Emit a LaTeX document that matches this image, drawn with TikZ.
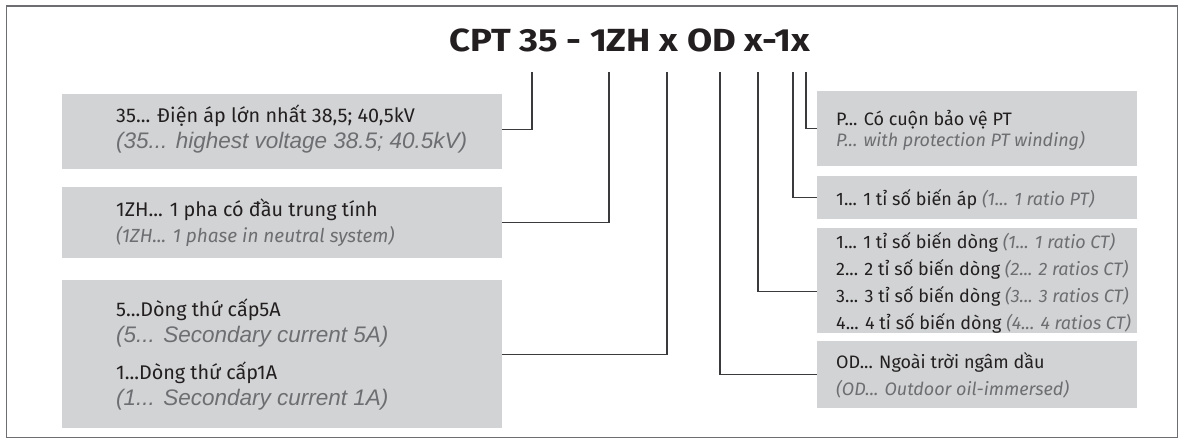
\documentclass[tikz,border=0pt]{standalone}
\usepackage{fontspec}
\setmainfont{Fira Sans}
\newfontfamily\arfont{Liberation Sans}
\newfontfamily\titlefont[FakeStretch=1.14]{Fira Sans}
\definecolor{boxgray}{HTML}{D1D3D4}
\definecolor{txt}{HTML}{231F20}
\definecolor{engray}{HTML}{6D6E71}
\definecolor{framegray}{HTML}{6D6E71}
\definecolor{conngray}{HTML}{3A3A3C}
\begin{document}
\begin{tikzpicture}[x=1pt,y=-1pt,
  box/.style={fill=boxgray, draw=none, inner sep=0pt, anchor=north west},
  conn/.style={draw=conngray, line width=1.1pt},
  vn/.style={anchor=base west, inner sep=0pt, text=txt, font=\fontsize{19.8}{24}\selectfont},
  vnr/.style={anchor=base west, inner sep=0pt, text=txt, font=\fontsize{18}{22}\selectfont},
  vnit/.style={anchor=base west, inner sep=0pt, text=engray, font=\fontsize{19}{22}\selectfont\itshape},
  vnrit/.style={anchor=base west, inner sep=0pt, text=engray, font=\fontsize{18}{22}\selectfont\itshape},
  en/.style={anchor=base west, inner sep=0pt, text=engray, font=\fontsize{22.5}{26}\arfont\itshape},
  ttl/.style={anchor=base, inner sep=0pt, text=txt, font=\fontsize{32}{38}\titlefont\bfseries}]
\useasboundingbox (0,0) rectangle (1179,441);
\node[draw=framegray, line width=1.5pt, inner sep=0pt, anchor=north west,
  minimum width=1171pt, minimum height=431pt] (frame) at (5.5,5.5) {};

\node[ttl] (title) at (629.5,52) {CPT 35 - 1ZH x OD x-1x};

% boxes
\node[box, minimum width=440pt, minimum height=75pt] (b1) at (62,94) {};
\node[box, minimum width=440pt, minimum height=71pt] (b2) at (62,187) {};
\node[box, minimum width=440pt, minimum height=148pt] (b3) at (62,280) {};
\node[box, minimum width=320pt, minimum height=75pt] (r1) at (817,91) {};
\node[box, minimum width=320pt, minimum height=43pt] (r2) at (817,176) {};
\node[box, minimum width=320pt, minimum height=105pt] (r3) at (817,228) {};
\node[box, minimum width=320pt, minimum height=67pt] (r4) at (817,341) {};

% tick tops
\coordinate (t1) at (532,72);
\coordinate (t2) at (609,72);
\coordinate (t3) at (667,72);
\coordinate (t4) at (720,72);
\coordinate (t5) at (758,72);
\coordinate (t6) at (793,72);
\coordinate (t7) at (806,72);

\draw[conn] (t1) |- ([yshift=2.5pt]b1.east);
\draw[conn] (t2) |- (b2.east);
\draw[conn] (t3) |- (b3.east);
\draw[conn] (t4) |- (r4.west);
\draw[conn] (t5) |- ([yshift=-10.5pt]r3.west);
\draw[conn] (t6) |- (r2.west);
\draw[conn] (t7) |- (r1.west);

% left texts
\node[vn] (l1a) at (116,123) {35... Điện áp lớn nhất 38,5; 40,5kV};
\node[en] (l1b) at (116,148.5) {(35... highest voltage 38.5; 40.5kV)};
\node[vn] (l2a) at (116,216) {1ZH... 1 pha có đầu trung tính};
\node[vnit] (l2b) at (116,242) {(1ZH... 1 phase in neutral system)};
\node[vn] (l3a) at (116,316) {5...Dòng thứ cấp5A};
\node[en] (l3b) at (116,342) {(5... Secondary current 5A)};
\node[vn] (l3c) at (116,379.5) {1...Dòng thứ cấp1A};
\node[en] (l3d) at (116,405.5) {(1... Secondary current 1A)};

% right texts
\node[vnr] (p1a) at (836,126) {P... Có cuộn bảo vệ PT};
\node[vnrit] (p1b) at (836,147) {P... with protection PT winding)};
\node[vnr] (p2) at (836,206) {1... 1 tỉ số biến áp {\itshape\color{engray}(1... 1 ratio PT)}};
\node[vnr] (p3a) at (836,248) {1... 1 tỉ số biến dòng {\itshape\color{engray}(1... 1 ratio CT)}};
\node[vnr] (p3b) at (836,275) {2... 2 tỉ số biến dòng {\itshape\color{engray}(2... 2 ratios CT)}};
\node[vnr] (p3c) at (836,302) {3... 3 tỉ số biến dòng {\itshape\color{engray}(3... 3 ratios CT)}};
\node[vnr] (p3d) at (836,329) {4... 4 tỉ số biến dòng {\itshape\color{engray}(4... 4 ratios CT)}};
\node[vnr] (p4a) at (836,368) {OD... Ngoài trời ngâm dầu};
\node[vnrit] (p4b) at (836,395) {(OD... Outdoor oil-immersed)};
\end{tikzpicture}
\end{document}
